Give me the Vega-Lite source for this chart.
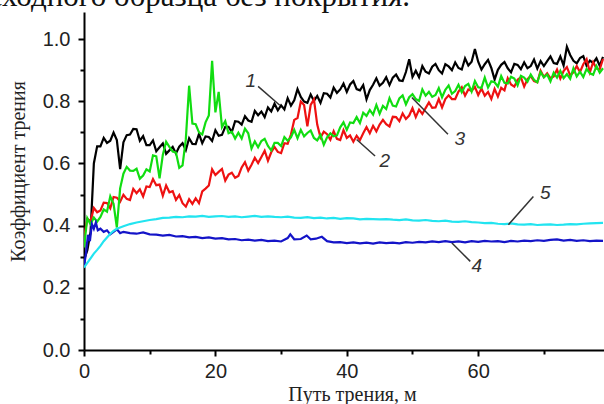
{
"$schema": "https://vega.github.io/schema/vega-lite/v6.json",
"width": 520,
"height": 338,
"autosize": {"type": "none"},
"padding": {"left": 84, "top": 12, "right": 0, "bottom": 54},
"background": "white",
"config": {"view": {"stroke": null}},
"title": {"text": "исходного образца без покрытия.", "anchor": "end", "frame": "group", "orient": "top", "offset": -25, "baseline": "alphabetic", "dx": -194, "font": "Liberation Serif", "fontSize": 31, "fontWeight": "normal", "color": "#111111"},
"datasets": {
"curves": [
{"s":"1","x":0,"y":0.29},{"s":"1","x":0.5,"y":0.32},{"s":"1","x":1,"y":0.38},{"s":"1","x":1.5,"y":0.60},{"s":"1","x":2,"y":0.655},{"s":"1","x":2.5,"y":0.655},{"s":"1","x":3,"y":0.682},{"s":"1","x":3.5,"y":0.666},{"s":"1","x":4,"y":0.673},{"s":"1","x":4.5,"y":0.699},
{"s":"1","x":5,"y":0.675},{"s":"1","x":5.5,"y":0.582},{"s":"1","x":6,"y":0.668},{"s":"1","x":6.5,"y":0.691},{"s":"1","x":7,"y":0.693},{"s":"1","x":7.5,"y":0.711},{"s":"1","x":8,"y":0.71},{"s":"1","x":8.5,"y":0.673},{"s":"1","x":9,"y":0.688},{"s":"1","x":9.5,"y":0.659},
{"s":"1","x":10,"y":0.659},{"s":"1","x":10.5,"y":0.674},{"s":"1","x":11,"y":0.639},{"s":"1","x":11.5,"y":0.652},{"s":"1","x":12,"y":0.664},{"s":"1","x":12.5,"y":0.631},{"s":"1","x":13,"y":0.642},{"s":"1","x":13.5,"y":0.653},{"s":"1","x":14,"y":0.632},{"s":"1","x":14.5,"y":0.654},
{"s":"1","x":15,"y":0.665},{"s":"1","x":15.5,"y":0.643},{"s":"1","x":16,"y":0.681},{"s":"1","x":16.5,"y":0.663},{"s":"1","x":17,"y":0.662},{"s":"1","x":17.5,"y":0.695},{"s":"1","x":18,"y":0.665},{"s":"1","x":18.5,"y":0.687},{"s":"1","x":19,"y":0.685},{"s":"1","x":19.5,"y":0.672},
{"s":"1","x":20,"y":0.707},{"s":"1","x":20.5,"y":0.689},{"s":"1","x":21,"y":0.692},{"s":"1","x":21.5,"y":0.718},{"s":"1","x":22,"y":0.718},{"s":"1","x":22.5,"y":0.701},{"s":"1","x":23,"y":0.736},{"s":"1","x":23.5,"y":0.734},{"s":"1","x":24,"y":0.725},{"s":"1","x":24.5,"y":0.752},
{"s":"1","x":25,"y":0.738},{"s":"1","x":25.5,"y":0.734},{"s":"1","x":26,"y":0.769},{"s":"1","x":26.5,"y":0.755},{"s":"1","x":27,"y":0.767},{"s":"1","x":27.5,"y":0.749},{"s":"1","x":28,"y":0.78},{"s":"1","x":28.5,"y":0.767},{"s":"1","x":29,"y":0.792},{"s":"1","x":29.5,"y":0.771},
{"s":"1","x":30,"y":0.787},{"s":"1","x":30.5,"y":0.774},{"s":"1","x":31,"y":0.81},{"s":"1","x":31.5,"y":0.786},{"s":"1","x":32,"y":0.803},{"s":"1","x":32.5,"y":0.839},{"s":"1","x":33,"y":0.814},{"s":"1","x":33.5,"y":0.799},{"s":"1","x":34,"y":0.795},{"s":"1","x":34.5,"y":0.822},
{"s":"1","x":35,"y":0.801},{"s":"1","x":35.5,"y":0.817},{"s":"1","x":36,"y":0.795},{"s":"1","x":36.5,"y":0.826},{"s":"1","x":37,"y":0.824},{"s":"1","x":37.5,"y":0.812},{"s":"1","x":38,"y":0.844},{"s":"1","x":38.5,"y":0.827},{"s":"1","x":39,"y":0.838},{"s":"1","x":39.5,"y":0.857},
{"s":"1","x":40,"y":0.83},{"s":"1","x":40.5,"y":0.854},{"s":"1","x":41,"y":0.865},{"s":"1","x":41.5,"y":0.839},{"s":"1","x":42,"y":0.835},{"s":"1","x":42.5,"y":0.852},{"s":"1","x":43,"y":0.806},{"s":"1","x":43.5,"y":0.836},{"s":"1","x":44,"y":0.853},{"s":"1","x":44.5,"y":0.874},
{"s":"1","x":45,"y":0.85},{"s":"1","x":45.5,"y":0.859},{"s":"1","x":46,"y":0.877},{"s":"1","x":46.5,"y":0.852},{"s":"1","x":47,"y":0.876},{"s":"1","x":47.5,"y":0.886},{"s":"1","x":48,"y":0.867},{"s":"1","x":48.5,"y":0.865},{"s":"1","x":49,"y":0.894},{"s":"1","x":49.5,"y":0.935},
{"s":"1","x":50,"y":0.878},{"s":"1","x":50.5,"y":0.898},{"s":"1","x":51,"y":0.877},{"s":"1","x":51.5,"y":0.913},{"s":"1","x":52,"y":0.895},{"s":"1","x":52.5,"y":0.889},{"s":"1","x":53,"y":0.911},{"s":"1","x":53.5,"y":0.92},{"s":"1","x":54,"y":0.90},{"s":"1","x":54.5,"y":0.889},
{"s":"1","x":55,"y":0.919},{"s":"1","x":55.5,"y":0.912},{"s":"1","x":56,"y":0.90},{"s":"1","x":56.5,"y":0.925},{"s":"1","x":57,"y":0.907},{"s":"1","x":57.5,"y":0.902},{"s":"1","x":58,"y":0.938},{"s":"1","x":58.5,"y":0.915},{"s":"1","x":59,"y":0.927},{"s":"1","x":59.5,"y":0.968},
{"s":"1","x":60,"y":0.927},{"s":"1","x":60.5,"y":0.902},{"s":"1","x":61,"y":0.919},{"s":"1","x":61.5,"y":0.933},{"s":"1","x":62,"y":0.907},{"s":"1","x":62.5,"y":0.87},{"s":"1","x":63,"y":0.901},{"s":"1","x":63.5,"y":0.917},{"s":"1","x":64,"y":0.926},{"s":"1","x":64.5,"y":0.906},
{"s":"1","x":65,"y":0.893},{"s":"1","x":65.5,"y":0.92},{"s":"1","x":66,"y":0.917},{"s":"1","x":66.5,"y":0.903},{"s":"1","x":67,"y":0.925},{"s":"1","x":67.5,"y":0.906},{"s":"1","x":68,"y":0.913},{"s":"1","x":68.5,"y":0.934},{"s":"1","x":69,"y":0.905},{"s":"1","x":69.5,"y":0.929},
{"s":"1","x":70,"y":0.913},{"s":"1","x":70.5,"y":0.929},{"s":"1","x":71,"y":0.944},{"s":"1","x":71.5,"y":0.923},{"s":"1","x":72,"y":0.92},{"s":"1","x":72.5,"y":0.944},{"s":"1","x":73,"y":0.915},{"s":"1","x":73.5,"y":0.975},{"s":"1","x":74,"y":0.949},{"s":"1","x":74.5,"y":0.93},
{"s":"1","x":75,"y":0.922},{"s":"1","x":75.5,"y":0.939},{"s":"1","x":76,"y":0.945},{"s":"1","x":76.5,"y":0.914},{"s":"1","x":77,"y":0.931},{"s":"1","x":77.5,"y":0.923},{"s":"1","x":78,"y":0.938},{"s":"1","x":78.5,"y":0.914},{"s":"1","x":79,"y":0.943},

{"s":"2","x":0,"y":0.36},{"s":"2","x":0.5,"y":0.421},{"s":"2","x":1,"y":0.415},{"s":"2","x":1.5,"y":0.457},{"s":"2","x":2,"y":0.443},{"s":"2","x":2.5,"y":0.449},{"s":"2","x":3,"y":0.474},{"s":"2","x":3.5,"y":0.473},{"s":"2","x":4,"y":0.456},{"s":"2","x":4.5,"y":0.492},
{"s":"2","x":5,"y":0.49},{"s":"2","x":5.5,"y":0.477},{"s":"2","x":6,"y":0.499},{"s":"2","x":6.5,"y":0.486},{"s":"2","x":7,"y":0.482},{"s":"2","x":7.5,"y":0.518},{"s":"2","x":8,"y":0.504},{"s":"2","x":8.5,"y":0.517},{"s":"2","x":9,"y":0.494},{"s":"2","x":9.5,"y":0.526},
{"s":"2","x":10,"y":0.524},{"s":"2","x":10.5,"y":0.55},{"s":"2","x":11,"y":0.53},{"s":"2","x":11.5,"y":0.532},{"s":"2","x":12,"y":0.496},{"s":"2","x":12.5,"y":0.529},{"s":"2","x":13,"y":0.507},{"s":"2","x":13.5,"y":0.511},{"s":"2","x":14,"y":0.483},{"s":"2","x":14.5,"y":0.498},
{"s":"2","x":15,"y":0.472},{"s":"2","x":15.5,"y":0.461},{"s":"2","x":16,"y":0.485},{"s":"2","x":16.5,"y":0.47},{"s":"2","x":17,"y":0.488},{"s":"2","x":17.5,"y":0.472},{"s":"2","x":18,"y":0.51},{"s":"2","x":18.5,"y":0.519},{"s":"2","x":19,"y":0.529},{"s":"2","x":19.5,"y":0.581},
{"s":"2","x":20,"y":0.563},{"s":"2","x":20.5,"y":0.573},{"s":"2","x":21,"y":0.582},{"s":"2","x":21.5,"y":0.545},{"s":"2","x":22,"y":0.564},{"s":"2","x":22.5,"y":0.57},{"s":"2","x":23,"y":0.554},{"s":"2","x":23.5,"y":0.56},{"s":"2","x":24,"y":0.587},{"s":"2","x":24.5,"y":0.604},
{"s":"2","x":25,"y":0.577},{"s":"2","x":25.5,"y":0.596},{"s":"2","x":26,"y":0.618},{"s":"2","x":26.5,"y":0.601},{"s":"2","x":27,"y":0.621},{"s":"2","x":27.5,"y":0.641},{"s":"2","x":28,"y":0.609},{"s":"2","x":28.5,"y":0.636},{"s":"2","x":29,"y":0.653},{"s":"2","x":29.5,"y":0.637},
{"s":"2","x":30,"y":0.633},{"s":"2","x":30.5,"y":0.665},{"s":"2","x":31,"y":0.663},{"s":"2","x":31.5,"y":0.693},{"s":"2","x":32,"y":0.74},{"s":"2","x":32.5,"y":0.746},{"s":"2","x":33,"y":0.799},{"s":"2","x":33.5,"y":0.788},{"s":"2","x":34,"y":0.719},{"s":"2","x":34.5,"y":0.788},
{"s":"2","x":35,"y":0.806},{"s":"2","x":35.5,"y":0.725},{"s":"2","x":36,"y":0.683},{"s":"2","x":36.5,"y":0.702},{"s":"2","x":37,"y":0.694},{"s":"2","x":37.5,"y":0.676},{"s":"2","x":38,"y":0.704},{"s":"2","x":38.5,"y":0.679},{"s":"2","x":39,"y":0.675},{"s":"2","x":39.5,"y":0.707},
{"s":"2","x":40,"y":0.682},{"s":"2","x":40.5,"y":0.69},{"s":"2","x":41,"y":0.67},{"s":"2","x":41.5,"y":0.689},{"s":"2","x":42,"y":0.675},{"s":"2","x":42.5,"y":0.697},{"s":"2","x":43,"y":0.717},{"s":"2","x":43.5,"y":0.697},{"s":"2","x":44,"y":0.721},{"s":"2","x":44.5,"y":0.703},
{"s":"2","x":45,"y":0.725},{"s":"2","x":45.5,"y":0.74},{"s":"2","x":46,"y":0.726},{"s":"2","x":46.5,"y":0.719},{"s":"2","x":47,"y":0.75},{"s":"2","x":47.5,"y":0.749},{"s":"2","x":48,"y":0.736},{"s":"2","x":48.5,"y":0.761},{"s":"2","x":49,"y":0.743},{"s":"2","x":49.5,"y":0.754},
{"s":"2","x":50,"y":0.778},{"s":"2","x":50.5,"y":0.749},{"s":"2","x":51,"y":0.773},{"s":"2","x":51.5,"y":0.759},{"s":"2","x":52,"y":0.778},{"s":"2","x":52.5,"y":0.796},{"s":"2","x":53,"y":0.779},{"s":"2","x":53.5,"y":0.78},{"s":"2","x":54,"y":0.807},{"s":"2","x":54.5,"y":0.78},
{"s":"2","x":55,"y":0.807},{"s":"2","x":55.5,"y":0.819},{"s":"2","x":56,"y":0.807},{"s":"2","x":56.5,"y":0.807},{"s":"2","x":57,"y":0.831},{"s":"2","x":57.5,"y":0.845},{"s":"2","x":58,"y":0.818},{"s":"2","x":58.5,"y":0.838},{"s":"2","x":59,"y":0.833},{"s":"2","x":59.5,"y":0.846},
{"s":"2","x":60,"y":0.82},{"s":"2","x":60.5,"y":0.841},{"s":"2","x":61,"y":0.818},{"s":"2","x":61.5,"y":0.83},{"s":"2","x":62,"y":0.807},{"s":"2","x":62.5,"y":0.84},{"s":"2","x":63,"y":0.815},{"s":"2","x":63.5,"y":0.843},{"s":"2","x":64,"y":0.835},{"s":"2","x":64.5,"y":0.874},
{"s":"2","x":65,"y":0.854},{"s":"2","x":65.5,"y":0.847},{"s":"2","x":66,"y":0.869},{"s":"2","x":66.5,"y":0.877},{"s":"2","x":67,"y":0.847},{"s":"2","x":67.5,"y":0.871},{"s":"2","x":68,"y":0.881},{"s":"2","x":68.5,"y":0.865},{"s":"2","x":69,"y":0.861},{"s":"2","x":69.5,"y":0.898},
{"s":"2","x":70,"y":0.878},{"s":"2","x":70.5,"y":0.89},{"s":"2","x":71,"y":0.874},{"s":"2","x":71.5,"y":0.88},{"s":"2","x":72,"y":0.902},{"s":"2","x":72.5,"y":0.873},{"s":"2","x":73,"y":0.897},{"s":"2","x":73.5,"y":0.91},{"s":"2","x":74,"y":0.883},{"s":"2","x":74.5,"y":0.893},
{"s":"2","x":75,"y":0.913},{"s":"2","x":75.5,"y":0.894},{"s":"2","x":76,"y":0.919},{"s":"2","x":76.5,"y":0.935},{"s":"2","x":77,"y":0.893},{"s":"2","x":77.5,"y":0.926},{"s":"2","x":78,"y":0.905},{"s":"2","x":78.5,"y":0.903},{"s":"2","x":79,"y":0.936},

{"s":"3","x":0,"y":0.33},{"s":"3","x":0.5,"y":0.424},{"s":"3","x":1,"y":0.404},{"s":"3","x":1.5,"y":0.426},{"s":"3","x":2,"y":0.413},{"s":"3","x":2.5,"y":0.428},{"s":"3","x":3,"y":0.452},{"s":"3","x":3.5,"y":0.445},{"s":"3","x":4,"y":0.494},{"s":"3","x":4.5,"y":0.47},
{"s":"3","x":5,"y":0.394},{"s":"3","x":5.5,"y":0.52},{"s":"3","x":6,"y":0.567},{"s":"3","x":6.5,"y":0.589},{"s":"3","x":7,"y":0.577},{"s":"3","x":7.5,"y":0.576},{"s":"3","x":8,"y":0.583},{"s":"3","x":8.5,"y":0.551},{"s":"3","x":9,"y":0.561},{"s":"3","x":9.5,"y":0.581},
{"s":"3","x":10,"y":0.574},{"s":"3","x":10.5,"y":0.626},{"s":"3","x":11,"y":0.623},{"s":"3","x":11.5,"y":0.552},{"s":"3","x":12,"y":0.628},{"s":"3","x":12.5,"y":0.67},{"s":"3","x":13,"y":0.653},{"s":"3","x":13.5,"y":0.638},{"s":"3","x":14,"y":0.635},{"s":"3","x":14.5,"y":0.586},
{"s":"3","x":15,"y":0.594},{"s":"3","x":15.5,"y":0.678},{"s":"3","x":16,"y":0.85},{"s":"3","x":16.5,"y":0.728},{"s":"3","x":17,"y":0.726},{"s":"3","x":17.5,"y":0.70},{"s":"3","x":18,"y":0.693},{"s":"3","x":18.5,"y":0.732},{"s":"3","x":19,"y":0.754},{"s":"3","x":19.5,"y":0.93},
{"s":"3","x":20,"y":0.764},{"s":"3","x":20.5,"y":0.83},{"s":"3","x":21,"y":0.717},{"s":"3","x":21.5,"y":0.736},{"s":"3","x":22,"y":0.697},{"s":"3","x":22.5,"y":0.702},{"s":"3","x":23,"y":0.68},{"s":"3","x":23.5,"y":0.699},{"s":"3","x":24,"y":0.68},{"s":"3","x":24.5,"y":0.712},
{"s":"3","x":25,"y":0.697},{"s":"3","x":25.5,"y":0.648},{"s":"3","x":26,"y":0.671},{"s":"3","x":26.5,"y":0.652},{"s":"3","x":27,"y":0.672},{"s":"3","x":27.5,"y":0.679},{"s":"3","x":28,"y":0.656},{"s":"3","x":28.5,"y":0.642},{"s":"3","x":29,"y":0.666},{"s":"3","x":29.5,"y":0.666},
{"s":"3","x":30,"y":0.656},{"s":"3","x":30.5,"y":0.685},{"s":"3","x":31,"y":0.673},{"s":"3","x":31.5,"y":0.684},{"s":"3","x":32,"y":0.708},{"s":"3","x":32.5,"y":0.681},{"s":"3","x":33,"y":0.708},{"s":"3","x":33.5,"y":0.687},{"s":"3","x":34,"y":0.698},{"s":"3","x":34.5,"y":0.706},
{"s":"3","x":35,"y":0.682},{"s":"3","x":35.5,"y":0.674},{"s":"3","x":36,"y":0.692},{"s":"3","x":36.5,"y":0.66},{"s":"3","x":37,"y":0.684},{"s":"3","x":37.5,"y":0.697},{"s":"3","x":38,"y":0.687},{"s":"3","x":38.5,"y":0.69},{"s":"3","x":39,"y":0.716},{"s":"3","x":39.5,"y":0.732},
{"s":"3","x":40,"y":0.708},{"s":"3","x":40.5,"y":0.732},{"s":"3","x":41,"y":0.73},{"s":"3","x":41.5,"y":0.749},{"s":"3","x":42,"y":0.73},{"s":"3","x":42.5,"y":0.763},{"s":"3","x":43,"y":0.753},{"s":"3","x":43.5,"y":0.772},{"s":"3","x":44,"y":0.757},{"s":"3","x":44.5,"y":0.788},
{"s":"3","x":45,"y":0.76},{"s":"3","x":45.5,"y":0.785},{"s":"3","x":46,"y":0.775},{"s":"3","x":46.5,"y":0.81},{"s":"3","x":47,"y":0.786},{"s":"3","x":47.5,"y":0.783},{"s":"3","x":48,"y":0.809},{"s":"3","x":48.5,"y":0.819},{"s":"3","x":49,"y":0.79},{"s":"3","x":49.5,"y":0.813},
{"s":"3","x":50,"y":0.823},{"s":"3","x":50.5,"y":0.807},{"s":"3","x":51,"y":0.801},{"s":"3","x":51.5,"y":0.838},{"s":"3","x":52,"y":0.818},{"s":"3","x":52.5,"y":0.83},{"s":"3","x":53,"y":0.814},{"s":"3","x":53.5,"y":0.82},{"s":"3","x":54,"y":0.842},{"s":"3","x":54.5,"y":0.813},
{"s":"3","x":55,"y":0.837},{"s":"3","x":55.5,"y":0.851},{"s":"3","x":56,"y":0.824},{"s":"3","x":56.5,"y":0.833},{"s":"3","x":57,"y":0.853},{"s":"3","x":57.5,"y":0.829},{"s":"3","x":58,"y":0.849},{"s":"3","x":58.5,"y":0.856},{"s":"3","x":59,"y":0.831},{"s":"3","x":59.5,"y":0.865},
{"s":"3","x":60,"y":0.845},{"s":"3","x":60.5,"y":0.843},{"s":"3","x":61,"y":0.876},{"s":"3","x":61.5,"y":0.844},{"s":"3","x":62,"y":0.864},{"s":"3","x":62.5,"y":0.861},{"s":"3","x":63,"y":0.847},{"s":"3","x":63.5,"y":0.881},{"s":"3","x":64,"y":0.859},{"s":"3","x":64.5,"y":0.857},
{"s":"3","x":65,"y":0.879},{"s":"3","x":65.5,"y":0.873},{"s":"3","x":66,"y":0.851},{"s":"3","x":66.5,"y":0.882},{"s":"3","x":67,"y":0.876},{"s":"3","x":67.5,"y":0.863},{"s":"3","x":68,"y":0.886},{"s":"3","x":68.5,"y":0.869},{"s":"3","x":69,"y":0.861},{"s":"3","x":69.5,"y":0.894},
{"s":"3","x":70,"y":0.877},{"s":"3","x":70.5,"y":0.886},{"s":"3","x":71,"y":0.864},{"s":"3","x":71.5,"y":0.892},{"s":"3","x":72,"y":0.876},{"s":"3","x":72.5,"y":0.898},{"s":"3","x":73,"y":0.874},{"s":"3","x":73.5,"y":0.887},{"s":"3","x":74,"y":0.872},{"s":"3","x":74.5,"y":0.906},
{"s":"3","x":75,"y":0.88},{"s":"3","x":75.5,"y":0.895},{"s":"3","x":76,"y":0.878},{"s":"3","x":76.5,"y":0.904},{"s":"3","x":77,"y":0.89},{"s":"3","x":77.5,"y":0.885},{"s":"3","x":78,"y":0.913},{"s":"3","x":78.5,"y":0.892},{"s":"3","x":79,"y":0.906},

{"s":"4","x":0,"y":0.27},{"s":"4","x":0.3,"y":0.31},{"s":"4","x":0.6,"y":0.37},{"s":"4","x":0.9,"y":0.35},{"s":"4","x":1.2,"y":0.405},{"s":"4","x":1.5,"y":0.39},{"s":"4","x":1.8,"y":0.41},{"s":"4","x":2.1,"y":0.385},{"s":"4","x":2.5,"y":0.39},{"s":"4","x":3,"y":0.38},
{"s":"4","x":3.5,"y":0.385},{"s":"4","x":4,"y":0.372},{"s":"4","x":4.5,"y":0.38},{"s":"4","x":5,"y":0.388},{"s":"4","x":5.5,"y":0.376},{"s":"4","x":6,"y":0.38},{"s":"4","x":7,"y":0.376},{"s":"4","x":8,"y":0.374},{"s":"4","x":9,"y":0.378},{"s":"4","x":10,"y":0.372},
{"s":"4","x":11,"y":0.371},{"s":"4","x":12,"y":0.368},{"s":"4","x":13,"y":0.37},{"s":"4","x":14,"y":0.365},{"s":"4","x":15,"y":0.366},{"s":"4","x":16,"y":0.362},{"s":"4","x":17,"y":0.364},{"s":"4","x":18,"y":0.36},{"s":"4","x":19,"y":0.362},{"s":"4","x":20,"y":0.358},
{"s":"4","x":21,"y":0.36},{"s":"4","x":22,"y":0.356},{"s":"4","x":23,"y":0.357},{"s":"4","x":24,"y":0.353},{"s":"4","x":25,"y":0.355},{"s":"4","x":26,"y":0.352},{"s":"4","x":27,"y":0.354},{"s":"4","x":28,"y":0.35},{"s":"4","x":29,"y":0.352},{"s":"4","x":30,"y":0.349},
{"s":"4","x":31,"y":0.36},{"s":"4","x":31.4,"y":0.372},{"s":"4","x":32,"y":0.356},{"s":"4","x":33,"y":0.357},{"s":"4","x":33.9,"y":0.368},{"s":"4","x":34.5,"y":0.356},{"s":"4","x":35.3,"y":0.358},{"s":"4","x":36.2,"y":0.364},{"s":"4","x":37,"y":0.35},{"s":"4","x":38,"y":0.346},
{"s":"4","x":39,"y":0.347},{"s":"4","x":40,"y":0.344},{"s":"4","x":41,"y":0.346},{"s":"4","x":42,"y":0.343},{"s":"4","x":43,"y":0.345},{"s":"4","x":44,"y":0.342},{"s":"4","x":45,"y":0.346},{"s":"4","x":46,"y":0.344},{"s":"4","x":47,"y":0.345},{"s":"4","x":48,"y":0.343},
{"s":"4","x":49,"y":0.347},{"s":"4","x":50,"y":0.345},{"s":"4","x":51,"y":0.348},{"s":"4","x":52,"y":0.346},{"s":"4","x":53,"y":0.349},{"s":"4","x":54,"y":0.347},{"s":"4","x":55,"y":0.35},{"s":"4","x":56,"y":0.347},{"s":"4","x":57,"y":0.349},{"s":"4","x":58,"y":0.346},
{"s":"4","x":59,"y":0.35},{"s":"4","x":60,"y":0.348},{"s":"4","x":61,"y":0.351},{"s":"4","x":62,"y":0.349},{"s":"4","x":63,"y":0.35},{"s":"4","x":64,"y":0.347},{"s":"4","x":65,"y":0.351},{"s":"4","x":66,"y":0.349},{"s":"4","x":67,"y":0.352},{"s":"4","x":68,"y":0.35},
{"s":"4","x":69,"y":0.353},{"s":"4","x":70,"y":0.351},{"s":"4","x":71,"y":0.354},{"s":"4","x":72,"y":0.356},{"s":"4","x":73,"y":0.352},{"s":"4","x":74,"y":0.354},{"s":"4","x":75,"y":0.351},{"s":"4","x":76,"y":0.353},{"s":"4","x":77,"y":0.35},{"s":"4","x":78,"y":0.352},{"s":"4","x":79,"y":0.351},

{"s":"5","x":0,"y":0.265},{"s":"5","x":0.5,"y":0.28},{"s":"5","x":1,"y":0.295},{"s":"5","x":1.5,"y":0.31},{"s":"5","x":2,"y":0.322},{"s":"5","x":2.5,"y":0.335},{"s":"5","x":3,"y":0.35},{"s":"5","x":3.5,"y":0.362},{"s":"5","x":4,"y":0.374},{"s":"5","x":4.5,"y":0.383},
{"s":"5","x":5,"y":0.39},{"s":"5","x":5.5,"y":0.394},{"s":"5","x":6,"y":0.398},{"s":"5","x":7,"y":0.405},{"s":"5","x":8,"y":0.41},{"s":"5","x":9,"y":0.414},{"s":"5","x":10,"y":0.418},{"s":"5","x":11,"y":0.421},{"s":"5","x":12,"y":0.425},{"s":"5","x":13,"y":0.426},
{"s":"5","x":14,"y":0.428},{"s":"5","x":15,"y":0.427},{"s":"5","x":16,"y":0.43},{"s":"5","x":17,"y":0.429},{"s":"5","x":18,"y":0.431},{"s":"5","x":19,"y":0.428},{"s":"5","x":20,"y":0.43},{"s":"5","x":21,"y":0.431},{"s":"5","x":22,"y":0.428},{"s":"5","x":23,"y":0.43},
{"s":"5","x":24,"y":0.427},{"s":"5","x":25,"y":0.429},{"s":"5","x":26,"y":0.431},{"s":"5","x":27,"y":0.428},{"s":"5","x":28,"y":0.43},{"s":"5","x":29,"y":0.428},{"s":"5","x":30,"y":0.427},{"s":"5","x":31,"y":0.429},{"s":"5","x":32,"y":0.426},{"s":"5","x":33,"y":0.425},
{"s":"5","x":34,"y":0.427},{"s":"5","x":35,"y":0.424},{"s":"5","x":36,"y":0.426},{"s":"5","x":37,"y":0.423},{"s":"5","x":38,"y":0.425},{"s":"5","x":39,"y":0.422},{"s":"5","x":40,"y":0.424},{"s":"5","x":41,"y":0.423},{"s":"5","x":42,"y":0.42},{"s":"5","x":43,"y":0.422},
{"s":"5","x":44,"y":0.421},{"s":"5","x":45,"y":0.42},{"s":"5","x":46,"y":0.421},{"s":"5","x":47,"y":0.419},{"s":"5","x":48,"y":0.418},{"s":"5","x":49,"y":0.42},{"s":"5","x":50,"y":0.417},{"s":"5","x":51,"y":0.416},{"s":"5","x":52,"y":0.418},{"s":"5","x":53,"y":0.415},
{"s":"5","x":54,"y":0.414},{"s":"5","x":55,"y":0.416},{"s":"5","x":56,"y":0.413},{"s":"5","x":57,"y":0.412},{"s":"5","x":58,"y":0.414},{"s":"5","x":59,"y":0.411},{"s":"5","x":60,"y":0.41},{"s":"5","x":61,"y":0.408},{"s":"5","x":62,"y":0.409},{"s":"5","x":63,"y":0.406},
{"s":"5","x":64,"y":0.405},{"s":"5","x":65,"y":0.407},{"s":"5","x":66,"y":0.404},{"s":"5","x":67,"y":0.403},{"s":"5","x":68,"y":0.405},{"s":"5","x":69,"y":0.402},{"s":"5","x":70,"y":0.403},{"s":"5","x":71,"y":0.404},{"s":"5","x":72,"y":0.402},{"s":"5","x":73,"y":0.403},
{"s":"5","x":74,"y":0.405},{"s":"5","x":75,"y":0.404},{"s":"5","x":76,"y":0.406},{"s":"5","x":77,"y":0.407},{"s":"5","x":78,"y":0.408},{"s":"5","x":79,"y":0.409}
],
"leaders": [
{"x":26.5,"y":0.848,"x2":29.8,"y2":0.787},
{"x":41.5,"y":0.677,"x2":44.3,"y2":0.624},
{"x":49.9,"y":0.812,"x2":55.4,"y2":0.694},
{"x":56,"y":0.344,"x2":58.8,"y2":0.285},
{"x":68.4,"y":0.494,"x2":64.6,"y2":0.403}
],
"labels": [
{"t":"1","x":25.4,"y":0.866},
{"t":"2","x":45.8,"y":0.607},
{"t":"3","x":57.2,"y":0.677},
{"t":"4","x":59.8,"y":0.269},
{"t":"5","x":70.2,"y":0.505}
]
},
"layer": [
{
"data": {"name": "curves"},
"mark": {"type": "line", "strokeWidth": 2.2, "clip": true, "interpolate": "linear"},
"encoding": {
"x": {"field": "x", "type": "quantitative", "scale": {"domain": [0, 79.15], "nice": false, "zero": false},
 "axis": {"orient": "bottom", "values": [0, 20, 40, 60], "grid": false, "domainColor": "#000000", "domainWidth": 2, "tickColor": "#000000", "tickWidth": 2, "tickSize": 6, "labelFont": "Liberation Sans", "labelFontSize": 20, "labelColor": "#222222", "labelPadding": 5, "labelFlush": false, "labelOverlap": false,
  "title": "Путь трения, м", "titleFont": "Liberation Serif", "titleFontSize": 20, "titleFontWeight": "normal", "titleColor": "#222222", "titleX": 268, "titleY": 50, "titleAlign": "center", "titleBaseline": "alphabetic"}},
"y": {"field": "y", "type": "quantitative", "scale": {"domain": [0, 1.087], "nice": false, "zero": false},
 "axis": {"orient": "left", "values": [0, 0.2, 0.4, 0.6, 0.8, 1.0], "format": ".1f", "grid": false, "domainColor": "#000000", "domainWidth": 2, "tickColor": "#000000", "tickWidth": 2, "tickSize": 6, "labelFont": "Liberation Sans", "labelFontSize": 20, "labelColor": "#222222", "labelPadding": 8, "labelFlush": false, "labelOverlap": false,
  "title": "Коэффициент трения", "titleFont": "Liberation Serif", "titleFontSize": 20, "titleFontWeight": "normal", "titleColor": "#222222", "titleAngle": 270, "titleX": -60, "titleY": 159, "titleAlign": "center", "titleBaseline": "alphabetic"}},
"color": {"field": "s", "type": "nominal", "scale": {"domain": ["1", "2", "3", "4", "5"], "range": ["#000000", "#ee1111", "#11dd11", "#1414c8", "#22e4f0"]}, "legend": null}
}
},
{
"data": {"name": "leaders"},
"mark": {"type": "rule", "strokeWidth": 1.5, "color": "#333333"},
"encoding": {
"x": {"field": "x", "type": "quantitative", "scale": {"domain": [0, 79.15], "nice": false, "zero": false},
 "axis": {"orient": "bottom", "values": [10, 30, 50, 70], "grid": false, "domain": false, "labels": false, "title": null, "tickColor": "#000000", "tickWidth": 2, "tickSize": 4}},
"y": {"field": "y", "type": "quantitative", "scale": {"domain": [0, 1.087], "nice": false, "zero": false},
 "axis": {"orient": "left", "values": [0.1, 0.3, 0.5, 0.7, 0.9], "grid": false, "domain": false, "labels": false, "title": null, "tickColor": "#000000", "tickWidth": 2, "tickSize": 4}},
"x2": {"field": "x2"},
"y2": {"field": "y2"}
}
},
{
"data": {"name": "labels"},
"mark": {"type": "text", "font": "Liberation Sans", "fontStyle": "italic", "fontSize": 19, "color": "#333333", "align": "center", "baseline": "middle"},
"encoding": {
"x": {"field": "x", "type": "quantitative", "scale": {"domain": [0, 79.15], "nice": false, "zero": false}, "axis": null},
"y": {"field": "y", "type": "quantitative", "scale": {"domain": [0, 1.087], "nice": false, "zero": false}, "axis": null},
"text": {"field": "t"}
}
}
],
"resolve": {"axis": {"x": "independent", "y": "independent"}}
}
